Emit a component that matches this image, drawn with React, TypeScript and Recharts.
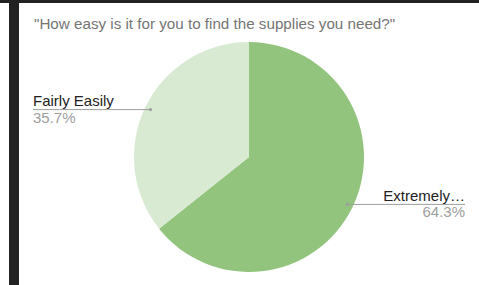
import React from 'react';
import { PieChart, Pie, Cell } from 'recharts';

const categories = ['Extremely…', 'Fairly Easily'];
const responses = [9, 5];
const sliceColors = ['#93c47d', '#d9ead3'];
const title = '"How easy is it for you to find the supplies you need?"';

const data = categories.map((name, i) => ({ name, value: responses[i] }));

const RADIAN = Math.PI / 180;
const FONT = '"Liberation Sans", Arial, sans-serif';

const renderLabel = (props: any) => {
  const { cx, cy, midAngle, outerRadius, percent, name, index } = props;
  const r = outerRadius * 0.95;
  const dx = cx + r * Math.cos(-midAngle * RADIAN);
  const dy = cy + r * Math.sin(-midAngle * RADIAN);
  const right = dx > cx;
  const edge = right ? cx + outerRadius + 101 : cx - outerRadius - 101;
  const anchor = right ? 'end' : 'start';
  return (
    <g key={`lbl-${index}`}>
      <line x1={dx} y1={dy} x2={edge} y2={dy} stroke="#9e9e9e" strokeWidth={1} />
      <circle cx={dx} cy={dy} r={1.6} fill="#9e9e9e" />
      <text x={edge} y={dy - 3.5} textAnchor={anchor} fontFamily={FONT} fontSize={15} fill="#222222">
        {name}
      </text>
      <text x={edge} y={dy + 13} textAnchor={anchor} fontFamily={FONT} fontSize={15} fill="#9e9e9e">
        {(percent * 100).toFixed(1)}%
      </text>
    </g>
  );
};

export default function App() {
  return (
    <div style={{ position: 'absolute', left: 0, top: 0, width: 479, height: 285, background: '#ffffff', overflow: 'hidden' }}>
      <div style={{ position: 'absolute', left: 0, top: 0, width: 479, height: 3, background: '#222222' }} />
      <div style={{ position: 'absolute', left: 9, top: 0, width: 10, height: 285, background: '#222222' }} />
      <div
        style={{
          position: 'absolute',
          left: 34,
          top: 15,
          fontFamily: FONT,
          fontSize: 15.2,
          lineHeight: '17px',
          color: '#757575',
          whiteSpace: 'nowrap',
        }}
      >
        {title}
      </div>
      <div style={{ position: 'absolute', left: 0, top: 0 }}>
        <PieChart width={479} height={285} margin={{ top: 0, right: 0, bottom: 0, left: 0 }}>
          <Pie
            data={data}
            dataKey="value"
            nameKey="name"
            cx={249}
            cy={157}
            outerRadius={115}
            startAngle={90}
            endAngle={-270}
            stroke="none"
            label={renderLabel}
            labelLine={false}
            isAnimationActive={false}
          >
            {data.map((d, i) => (
              <Cell key={d.name} fill={sliceColors[i]} />
            ))}
          </Pie>
        </PieChart>
      </div>
    </div>
  );
}
